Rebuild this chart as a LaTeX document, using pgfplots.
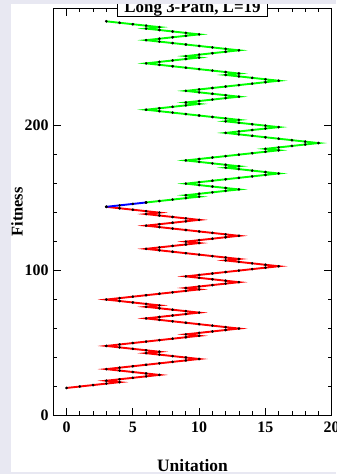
\documentclass[border=0pt]{standalone}
\usepackage{pgfplots}
\pgfplotsset{compat=1.18}
\usepackage{fontspec}
\setmainfont{Liberation Serif}
\definecolor{bglav}{RGB}{232,232,242}
\definecolor{pred}{RGB}{255,0,0}
\definecolor{pgreen}{RGB}{0,255,0}
\definecolor{pblue}{RGB}{0,0,255}
\begin{document}
\begin{tikzpicture}[x=1bp,y=1bp]
\fill[bglav] (0,0) rectangle (336,474);
\fill[white] (11,2) rectangle (336,470);
\begin{axis}[
  name=ax,
  at={(53.3bp,58.5bp)}, anchor=south west,
  scale only axis, width=278.4bp, height=407.2bp,
  xmin=-1, xmax=20, ymin=0, ymax=281,
  xtick={0,5,10,15,20}, ytick={0,100,200},
  minor x tick num=4, minor y tick num=4,
  tick align=inside,
  major tick length=7.5bp, minor tick length=4bp,
  axis line style={line width=1bp, black},
  every tick/.style={black, line width=0.8bp},
  /pgf/number format/assume math mode=true,
  ticklabel style={font=\bfseries\fontsize{16}{16}\selectfont},
  yticklabel style={xshift=-1.3bp},
  xticklabel style={yshift=-3.2bp},
  xlabel={Unitation}, ylabel={Fitness},
  xlabel style={font=\bfseries\fontsize{17.5}{17.5}\selectfont, at={(axis description cs:0.5,-0.1363)}, anchor=base},
  ylabel style={font=\bfseries\fontsize{16.5}{16.5}\selectfont, at={(axis description cs:-0.1099,0.5)}, anchor=base},
  clip=false,
]
\addplot[pred, line width=1.9bp, mark=*, mark size=1.2bp, mark options={fill=black, draw=black, line width=0.3bp}] coordinates {
(0,19)(1,20)(2,21)(3,22)(4,23)(3,24)(4,25)(5,26)(6,27)(7,28)(6,29)(5,30)(4,31)(3,32)(4,33)(5,34)(6,35)(7,36)(8,37)(9,38)(10,39)(9,40)(8,41)(7,42)(6,43)(7,44)(6,45)(5,46)(4,47)(3,48)(4,49)(5,50)(6,51)(7,52)(8,53)(9,54)(10,55)(9,56)(10,57)(11,58)(12,59)(13,60)(12,61)(11,62)(10,63)(9,64)(8,65)(7,66)(6,67)(7,68)(8,69)(9,70)(10,71)(9,72)(8,73)(7,74)(6,75)(7,76)(6,77)(5,78)(4,79)(3,80)(4,81)(5,82)(6,83)(7,84)(8,85)(9,86)(10,87)(9,88)(10,89)(11,90)(12,91)(13,92)(12,93)(11,94)(10,95)(9,96)(10,97)(11,98)(12,99)(13,100)(14,101)(15,102)(16,103)(15,104)(14,105)(13,106)(12,107)(13,108)(12,109)(11,110)(10,111)(9,112)(8,113)(7,114)(6,115)(7,116)(8,117)(9,118)(10,119)(9,120)(10,121)(11,122)(12,123)(13,124)(12,125)(11,126)(10,127)(9,128)(8,129)(7,130)(6,131)(7,132)(8,133)(9,134)(10,135)(9,136)(8,137)(7,138)(6,139)(7,140)(6,141)(5,142)(4,143)(3,144)
};
\addplot[pblue, line width=1.9bp, mark=*, mark size=1.2bp, mark options={fill=black, draw=black, line width=0.3bp}] coordinates {
(3,144)(4,145)(5,146)(6,147)
};
\addplot[pgreen, line width=1.9bp, mark=*, mark size=1.2bp, mark options={fill=black, draw=black, line width=0.3bp}] coordinates {
(6,147)(7,148)(8,149)(9,150)(10,151)(9,152)(10,153)(11,154)(12,155)(13,156)(12,157)(11,158)(10,159)(9,160)(10,161)(11,162)(12,163)(13,164)(14,165)(15,166)(16,167)(15,168)(14,169)(13,170)(12,171)(13,172)(12,173)(11,174)(10,175)(9,176)(10,177)(11,178)(12,179)(13,180)(14,181)(15,182)(16,183)(15,184)(16,185)(17,186)(18,187)(19,188)(18,189)(17,190)(16,191)(15,192)(14,193)(13,194)(12,195)(13,196)(14,197)(15,198)(16,199)(15,200)(14,201)(13,202)(12,203)(13,204)(12,205)(11,206)(10,207)(9,208)(8,209)(7,210)(6,211)(7,212)(8,213)(9,214)(10,215)(9,216)(10,217)(11,218)(12,219)(13,220)(12,221)(11,222)(10,223)(9,224)(10,225)(11,226)(12,227)(13,228)(14,229)(15,230)(16,231)(15,232)(14,233)(13,234)(12,235)(13,236)(12,237)(11,238)(10,239)(9,240)(8,241)(7,242)(6,243)(7,244)(8,245)(9,246)(10,247)(9,248)(10,249)(11,250)(12,251)(13,252)(12,253)(11,254)(10,255)(9,256)(8,257)(7,258)(6,259)(7,260)(8,261)(9,262)(10,263)(9,264)(8,265)(7,266)(6,267)(7,268)(6,269)(5,270)(4,271)(3,272)
};
\end{axis}
\node[draw=black, fill=white, line width=0.8bp, inner xsep=7bp, inner ysep=0.5bp, anchor=base, font=\bfseries\fontsize{17}{17}\selectfont] at ([yshift=-4.2bp]ax.north) {Long 3-Path, L=19};
\fill[bglav] (0,470) rectangle (336,474);
\fill[bglav] (0,0) rectangle (11,474);
\fill[bglav] (0,0) rectangle (336,2);
\pgfresetboundingbox
\path[use as bounding box] (0,0) rectangle (336,474);
\end{tikzpicture}
\end{document}
